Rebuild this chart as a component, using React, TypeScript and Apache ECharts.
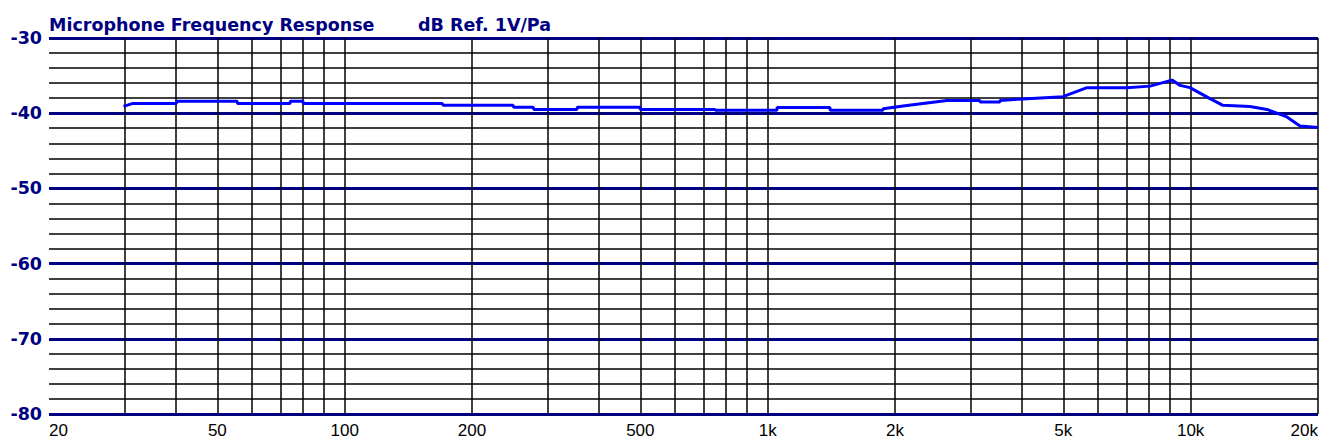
import React, { useEffect, useRef } from "react";
import * as echarts from "echarts";

// Frequency response readings (Hz, dB ref 1V/Pa)
const freqHz = [
  30, 31.6, 40, 40.1, 55.7, 55.8, 74.3, 74.4, 79.7, 79.8,
  170, 171, 250, 251, 279, 280, 354, 355, 499, 500,
  751, 752, 1052, 1053, 1404, 1405, 1874, 1875, 2112, 2654,
  3176, 3177, 3542, 3543, 4014, 4990, 5688, 7072, 8016, 9034,
  9440, 9960, 11112, 11920, 13812, 15150, 16890, 18130, 20000,
];
const levelDb = [
  -39.1, -38.7, -38.7, -38.4, -38.4, -38.7, -38.7, -38.4, -38.4, -38.7,
  -38.7, -38.95, -38.95, -39.2, -39.2, -39.5, -39.5, -39.2, -39.2, -39.5,
  -39.5, -39.6, -39.6, -39.25, -39.25, -39.6, -39.6, -39.4, -39.0, -38.3,
  -38.3, -38.5, -38.5, -38.3, -38.1, -37.8, -36.6, -36.6, -36.4, -35.6,
  -36.3, -36.6, -38.06, -38.95, -39.1, -39.5, -40.5, -41.7, -41.9,
];

const gridFreqs = [
  20, 30, 40, 50, 60, 70, 80, 90,
  100, 200, 300, 400, 500, 600, 700, 800, 900,
  1000, 2000, 3000, 4000, 5000, 6000, 7000, 8000, 9000,
  10000, 20000,
];
const xLabelFreqs = [20, 50, 100, 200, 500, 1000, 2000, 5000, 10000, 20000];
const xLabelTexts = ["20", "50", "100", "200", "500", "1k", "2k", "5k", "10k", "20k"];
const yMin = -80;
const yMax = -30;
const yStep = 10;
const titleMain = "Microphone Frequency Response";
const titleUnit = "dB Ref. 1V/Pa";

const lg = (f: number) => Math.log10(f);

export default function App() {
  const ref = useRef<HTMLDivElement>(null);
  useEffect(() => {
    document.body.style.margin = "0";
    const chart = echarts.init(ref.current!, null, { renderer: "svg" });
    chart.setOption({
      animation: false,
      backgroundColor: "#ffffff",
      title: [
        {
          text: titleMain,
          left: 49,
          top: 16,
          padding: 0,
          textStyle: { color: "#000080", fontFamily: "DejaVu Sans", fontWeight: "bold", fontSize: 17.5 },
        },
        {
          text: titleUnit,
          left: 418,
          top: 16,
          padding: 0,
          textStyle: { color: "#000080", fontFamily: "DejaVu Sans", fontWeight: "bold", fontSize: 17.5 },
        },
      ],
      grid: { left: 49, top: 38, width: 1269, height: 376, containLabel: false },
      xAxis: {
        type: "value",
        min: lg(20),
        max: lg(20000),
        axisLine: { show: false },
        axisTick: { show: false },
        splitLine: { show: false },
        axisLabel: {
          customValues: xLabelFreqs.map(lg),
          formatter: (v: number) => {
            const f = Math.pow(10, v);
            const i = xLabelFreqs.findIndex((x) => Math.abs(x - f) / x < 0.01);
            return i >= 0 ? xLabelTexts[i] : "";
          },
          alignMinLabel: "left",
          alignMaxLabel: "right",
          color: "#000",
          fontFamily: "Liberation Sans",
          fontSize: 17,
          margin: 8,
        },
      },
      yAxis: {
        type: "value",
        min: yMin,
        max: yMax,
        interval: yStep,
        axisLine: { show: false },
        axisTick: { show: false },
        splitLine: { show: true, lineStyle: { color: "#000080", width: 3 } },
        minorTick: { show: false, splitNumber: 5 },
        minorSplitLine: { show: true, lineStyle: { color: "#000", width: 1.5 } },
        axisLabel: {
          color: "#000080",
          fontFamily: "DejaVu Sans",
          fontWeight: "bold",
          fontSize: 17.5,
          margin: 7,
        },
      },
      series: [
        {
          type: "line",
          z: 1,
          silent: true,
          symbol: "none",
          data: [[lg(20), yMin]],
          lineStyle: { width: 0 },
          markLine: {
            silent: true,
            symbol: "none",
            label: { show: false },
            animation: false,
            lineStyle: { color: "#000", width: 1.5, type: "solid" },
            data: gridFreqs.map((f) => ({ xAxis: lg(f) })),
          },
        },
        {
          type: "line",
          z: 5,
          symbol: "none",
          data: freqHz.map((f, i) => [lg(f), levelDb[i]]),
          lineStyle: { color: "#0000ff", width: 3 },
        },
      ],
    });
    return () => chart.dispose();
  }, []);
  return <div ref={ref} style={{ width: 1322, height: 441 }} />;
}
